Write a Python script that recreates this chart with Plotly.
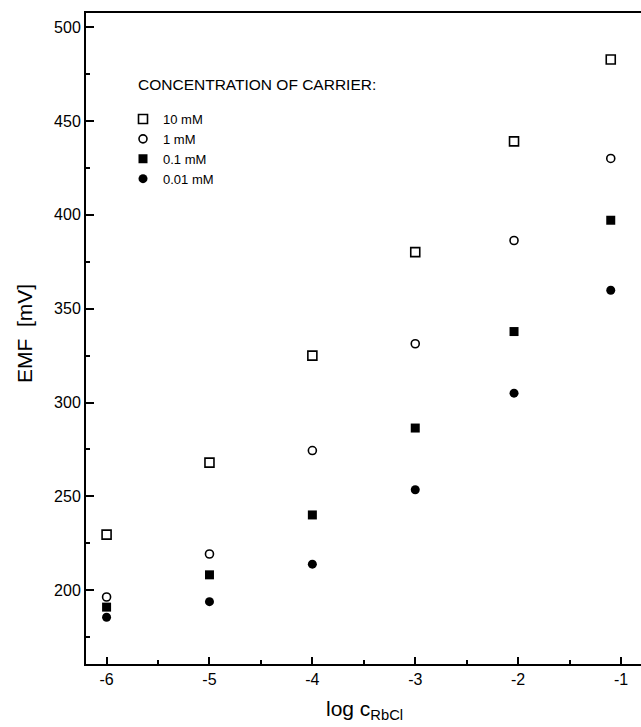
import plotly.graph_objects as go

# Data
log_c = [-6, -5, -4, -3, -2.04, -1.1]
emf_10mM = [229.6, 268.0, 325.0, 380.1, 439.1, 482.7]
emf_1mM = [196.4, 219.3, 274.4, 331.3, 386.3, 430.0]
emf_01mM = [191.0, 208.2, 240.1, 286.4, 337.8, 397.1]
emf_001mM = [185.6, 193.9, 213.9, 253.5, 305.0, 359.8]
series_names = ["10 mM", "1 mM", "0.1 mM", "0.01 mM"]
x_ticks = [-6, -5, -4, -3, -2, -1]
y_ticks = [200, 250, 300, 350, 400, 450, 500]

FONT = "Liberation Sans, Arial, Helvetica, sans-serif"

fig = go.Figure()
styles = [
    dict(symbol="square-open", size=9, color="black", line=dict(width=1.6, color="black")),
    dict(symbol="circle-open", size=8, color="black", line=dict(width=1.6, color="black")),
    dict(symbol="square", size=9, color="black"),
    dict(symbol="circle", size=9, color="black"),
]
for name, ys, st in zip(series_names, [emf_10mM, emf_1mM, emf_01mM, emf_001mM], styles):
    fig.add_trace(go.Scatter(x=log_c, y=ys, mode="markers", name=name, marker=st))

W, H = 641, 727
ML, MR, MT, MB = 86, 0, 13, 63
pw = W - ML - MR
ph = H - MT - MB

def px_x(px):
    return (px - ML) / pw

def px_y(py):
    return (H - MB - py) / ph

fig.update_layout(
    width=W, height=H,
    margin=dict(l=ML, r=MR, t=MT, b=MB, pad=0),
    paper_bgcolor="white", plot_bgcolor="white",
    font=dict(family=FONT, color="black", size=15),
    showlegend=True,
    legend=dict(
        x=px_x(123), y=px_y(104), xanchor="left", yanchor="top",
        bgcolor="rgba(0,0,0,0)", borderwidth=0,
        font=dict(size=13, family=FONT, color="black"),
        tracegroupgap=0,
    ),
    xaxis=dict(
        range=[-6.2, -0.806], tickvals=x_ticks, ticktext=[str(v) for v in x_ticks],
        ticks="inside", ticklen=7, tickwidth=1.5, tickcolor="black",
        showline=True, linewidth=2, linecolor="black", mirror=True,
        showgrid=False, zeroline=False,
        tickfont=dict(size=16, family=FONT, color="black"),
        minor=dict(dtick=0.5, tick0=-6, ticks="inside", ticklen=4, tickwidth=1.5, tickcolor="black", showgrid=False),
    ),
    yaxis=dict(
        range=[160.7, 507.5], tickvals=y_ticks, ticktext=[str(v) for v in y_ticks],
        ticks="inside", ticklen=8, tickwidth=1.5, tickcolor="black",
        showline=True, linewidth=2, linecolor="black", mirror=False,
        showgrid=False, zeroline=False,
        tickfont=dict(size=16, family=FONT, color="black"),
        minor=dict(dtick=25, tick0=0, ticks="inside", ticklen=4, tickwidth=1.5, tickcolor="black", showgrid=False),
    ),
    annotations=[
        dict(text="CONCENTRATION OF CARRIER:", xref="paper", yref="paper",
             x=px_x(136), y=px_y(84), xanchor="left", yanchor="middle",
             showarrow=False, font=dict(size=15.5, family=FONT, color="black")),
        dict(text="EMF  [mV]", xref="paper", yref="paper", textangle=-90,
             x=px_x(24), y=px_y(334), xanchor="center", yanchor="middle",
             showarrow=False, font=dict(size=21, family=FONT, color="black")),
        dict(text="log c<sub>RbCl</sub>", xref="paper", yref="paper",
             x=px_x(364), y=px_y(710), xanchor="center", yanchor="middle",
             showarrow=False, font=dict(size=21, family=FONT, color="black")),
    ],
)

fig.write_html(
    "out.html",
    config={"displayModeBar": False},
    post_script="document.body.style.margin='0';document.body.style.overflow='hidden';",
)
